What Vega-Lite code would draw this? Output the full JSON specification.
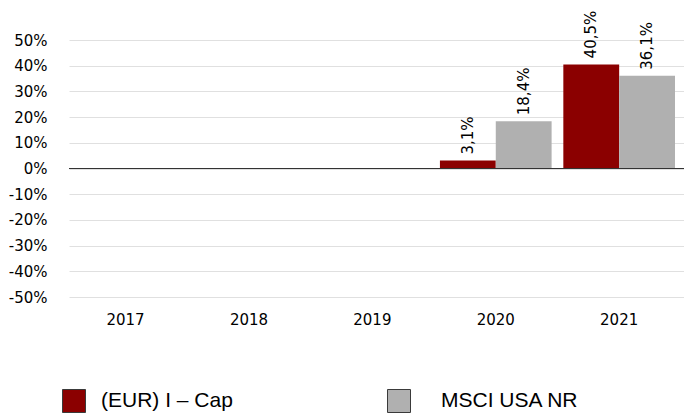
{
  "$schema": "https://vega.github.io/schema/vega-lite/v6.json",
  "width": 615,
  "height": 257,
  "autosize": {"type": "none"},
  "padding": {"left": 69, "top": 40, "right": 0, "bottom": 118},
  "config": {
    "view": {"stroke": null},
    "font": "DejaVu Sans",
    "locale": {"number": {"decimal": ",", "thousands": ".", "grouping": [3], "currency": ["", " €"], "minus": "-", "percent": "%"}},
    "axisY": {"format": ".0%", "grid": true, "gridColor": "#e0e0e0", "domain": false, "ticks": false, "labelFontSize": 15, "labelPadding": 22, "labelColor": "#000", "tickCount": 10, "labelFont": "DejaVu Sans"},
    "axisX": {"domain": false, "ticks": false, "grid": false, "labelFontSize": 15, "labelAngle": 0, "labelPadding": 15, "labelColor": "#000", "labelFont": "DejaVu Sans"}
  },
  "data": {
    "values": [
      {"year": "2017", "series": "(EUR) I – Cap", "value": null},
      {"year": "2018", "series": "(EUR) I – Cap", "value": null},
      {"year": "2019", "series": "(EUR) I – Cap", "value": null},
      {"year": "2020", "series": "(EUR) I – Cap", "value": 0.031},
      {"year": "2021", "series": "(EUR) I – Cap", "value": 0.405},
      {"year": "2017", "series": "MSCI USA NR", "value": null},
      {"year": "2018", "series": "MSCI USA NR", "value": null},
      {"year": "2019", "series": "MSCI USA NR", "value": null},
      {"year": "2020", "series": "MSCI USA NR", "value": 0.184},
      {"year": "2021", "series": "MSCI USA NR", "value": 0.361}
    ]
  },
  "resolve": {"scale": {"color": "independent"}, "legend": {"color": "independent"}},
  "layer": [
    {
      "transform": [{"filter": "datum.series === '(EUR) I – Cap'"}],
      "mark": {"type": "bar"},
      "encoding": {
        "x": {"field": "year", "type": "ordinal", "title": null, "scale": {"domain": ["2017", "2018", "2019", "2020", "2021"], "paddingInner": 0.095, "paddingOuter": 0.0395, "align": 0.077}},
        "xOffset": {"field": "series", "scale": {"domain": ["(EUR) I – Cap", "MSCI USA NR"], "paddingInner": 0, "paddingOuter": 0}},
        "y": {"field": "value", "type": "quantitative", "title": null, "scale": {"domain": [-0.5, 0.5], "nice": false}},
        "color": {"field": "series", "type": "nominal", "scale": {"domain": ["(EUR) I – Cap"], "range": ["#8B0000"]},
          "legend": {"orient": "none", "legendX": -7, "legendY": 349, "title": null, "padding": 0, "symbolType": "square", "symbolSize": 529, "symbolStrokeColor": "#3a3a3a", "symbolStrokeWidth": 1, "labelFont": "Liberation Sans", "labelFontSize": 21, "labelOffset": 15, "labelColor": "#000", "labelLimit": 300}}
      }
    },
    {
      "transform": [{"filter": "datum.series === 'MSCI USA NR'"}],
      "mark": {"type": "bar"},
      "encoding": {
        "x": {"field": "year", "type": "ordinal", "title": null, "scale": {"domain": ["2017", "2018", "2019", "2020", "2021"], "paddingInner": 0.095, "paddingOuter": 0.0395, "align": 0.077}},
        "xOffset": {"field": "series", "scale": {"domain": ["(EUR) I – Cap", "MSCI USA NR"], "paddingInner": 0, "paddingOuter": 0}},
        "y": {"field": "value", "type": "quantitative", "title": null},
        "color": {"field": "series", "type": "nominal", "scale": {"domain": ["MSCI USA NR"], "range": ["#B0B0B0"]},
          "legend": {"orient": "none", "legendX": 318, "legendY": 349, "title": null, "padding": 0, "symbolType": "square", "symbolSize": 529, "symbolStrokeColor": "#3a3a3a", "symbolStrokeWidth": 1, "labelFont": "Liberation Sans", "labelFontSize": 21, "labelOffset": 30, "labelColor": "#000", "labelLimit": 300}}
      }
    },
    {
      "mark": {"type": "text", "angle": 270, "align": "left", "baseline": "middle", "dx": 6, "fontSize": 15, "font": "DejaVu Sans", "color": "#000"},
      "encoding": {
        "x": {"field": "year", "type": "ordinal", "title": null},
        "xOffset": {"field": "series"},
        "y": {"field": "value", "type": "quantitative", "title": null},
        "text": {"field": "value", "type": "quantitative", "format": ".1%"}
      }
    },
    {
      "mark": {"type": "rule", "color": "#333333", "strokeWidth": 1},
      "encoding": {"y": {"datum": 0}}
    }
  ]
}
